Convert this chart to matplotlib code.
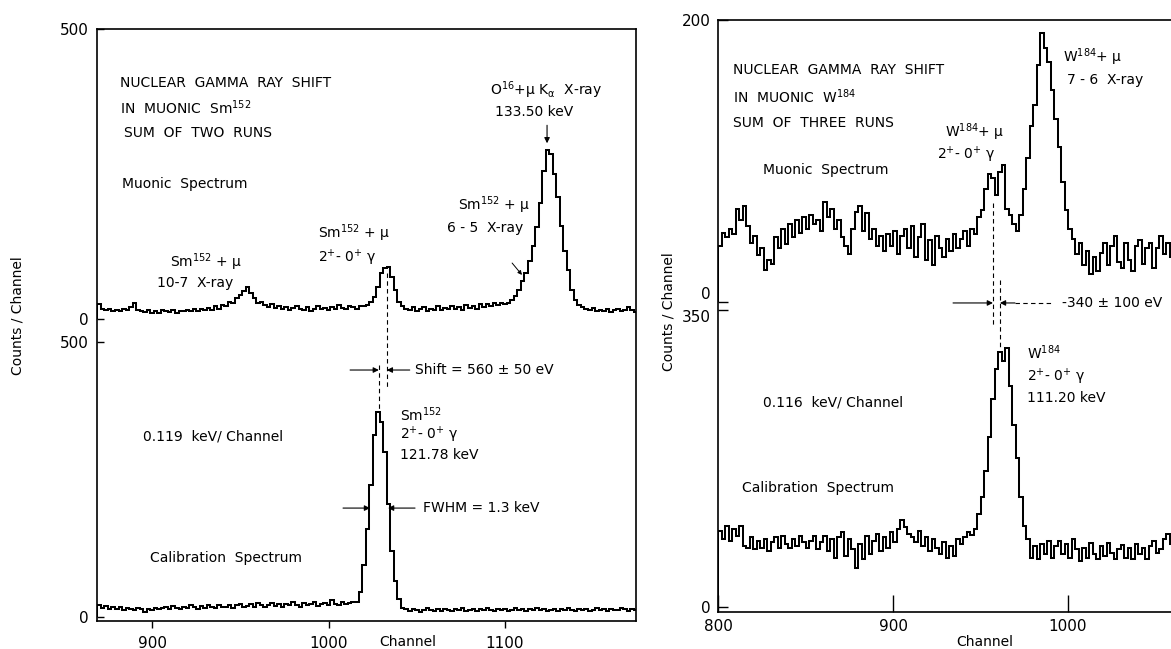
import numpy as np
import matplotlib
matplotlib.use("Agg")
import matplotlib.pyplot as plt

plt.rcParams['font.family'] = ['DejaVu Sans']
plt.rcParams['mathtext.default'] = 'regular'

W, H = 1171, 649

# ---------------- data (counts per bin) ----------------
sm_first_channel = 869
sm_bin_width = 2
sm_muonic_counts = [
    26, 18, 15, 17, 14, 16, 13, 18, 15, 20, 27, 16, 14, 12, 15, 11, 14, 10, 16, 13,
    12, 15, 11, 14, 13, 16, 14, 18, 13, 17, 15, 19, 16, 22, 18, 24,
    22, 30, 28, 36, 42, 48, 55, 45, 36, 28,
    30, 24, 20, 26, 19, 22, 17, 21, 15, 19, 23, 18, 16, 20, 14, 18, 22, 17, 19, 15,
    21, 18, 24, 19, 17, 22, 20, 18, 23,
    22, 24, 30, 38, 55, 80, 88, 90, 72, 50, 30, 22,
    18, 15, 20, 14, 17, 21, 13, 18, 16, 22, 15, 19, 17, 23, 18, 20, 16, 24, 19, 22,
    18, 25, 21, 26, 22, 28, 24, 27,
    26, 28, 32, 40, 50, 65, 80, 100, 125, 158, 200, 255, 292, 285, 250, 210, 160, 118,
    85, 50, 32, 24, 20,
    18, 15, 19, 13, 16, 14, 17, 12, 15, 18, 14, 16, 20, 15, 12,
]
sm_calib_counts = [
    22, 16, 20, 14, 18, 15, 19, 13, 17, 15, 12, 16, 14, 9, 15, 13, 17, 14, 16, 18,
    15, 20, 17, 14, 19, 16, 21, 18, 15, 20, 17, 22, 19, 16, 21, 18,
    19, 22, 17, 21, 24, 18, 20, 23, 19, 25, 21, 18, 22, 26, 20, 23, 19, 24, 21, 27,
    22, 18, 25, 21, 23, 28, 20, 24, 26, 22, 30, 24, 21, 27, 23, 25, 28,
    28, 45, 95, 160, 240, 330, 373, 355, 300, 205, 120, 65, 32, 16,
    14, 11, 15, 12, 9, 13, 16, 12, 10, 14, 11, 15, 13, 10, 14, 12, 16, 11, 13, 15,
    10, 14, 12, 17, 13, 11, 15, 12, 14, 10, 13, 16, 12, 14, 11, 15, 13, 17, 12, 14,
    10, 13, 15, 11, 14, 12, 16, 13, 11, 14, 12, 15, 10, 13, 16, 12, 14, 11, 15, 13,
    12, 16, 14, 11, 15, 13,
]

w_first_channel = 800
w_bin_width = 2
w_muonic_counts = [
    40, 49, 46, 52, 48, 66, 58, 68, 54, 42,
    47, 33, 38, 23, 30, 27, 46, 38, 52, 41,
    55, 46, 58, 49, 60, 52, 62, 55, 58, 50,
    71, 60, 66, 52, 58, 46, 40, 34, 52, 64,
    68, 50, 63, 45, 52, 40, 47, 36, 48, 40,
    50, 34, 47, 52, 38, 54, 32, 46, 55, 30,
    44, 26, 47, 38, 32, 45, 36, 48, 38, 45,
    50, 40, 52, 48, 60, 65, 80, 91, 88, 76,
    92, 97, 66, 62, 55, 50, 62, 80, 102, 125,
    140, 168, 191, 180, 170, 150, 130, 110, 85, 65,
    52, 45, 34, 42, 26, 36, 20, 32, 22, 35,
    42, 26, 40, 47, 28, 24, 42, 30, 22, 40,
    44, 27, 38, 42, 24, 38, 47, 34, 42, 32,
]
w_calib_counts = [
    90, 80, 96, 78, 92, 84, 95, 72, 70, 82,
    68, 78, 70, 80, 66, 76, 82, 70, 84, 74,
    70, 80, 72, 84, 76, 70, 78, 84, 68, 76,
    84, 66, 80, 58, 82, 88, 60, 80, 68, 46,
    74, 56, 84, 62, 78, 86, 66, 82, 70, 88,
    76, 92, 102, 94, 86, 82, 76, 90, 72, 82,
    66, 80, 70, 62, 76, 58, 72, 60, 80, 74,
    82, 88, 85, 92, 110, 130, 160, 200, 245, 280,
    300, 290, 305, 260, 215, 175, 130, 95, 80, 58,
    72, 56, 74, 62, 78, 58, 72, 78, 62, 74,
    58, 80, 68, 54, 70, 58, 75, 62, 56, 72,
    60, 75, 64, 56, 68, 73, 58, 70, 56, 74,
    62, 70, 56, 72, 78, 64, 68, 80, 86, 74,
]

left_xticks = [900, 1000, 1100]
right_xticks = [800, 900, 1000]
sm_yticks = [0, 500]
w_upper_yticks = [0, 200]
w_lower_yticks = [0, 350]

# ---------------- figure ----------------
fig = plt.figure(figsize=(W / 100, H / 100), dpi=100)
FS = 10


def rect(x0, y0, x1, y1):
    """pixel box (top-left origin) -> figure fraction rect"""
    return [x0 / W, 1 - y1 / H, (x1 - x0) / W, (y1 - y0) / H]


def ftext(x, y, s, size=FS, ha='left', **kw):
    fig.text(x / W, 1 - y / H, s, fontsize=size, ha=ha, va='center', **kw)


def edges(first, width, n):
    return first + width * np.arange(n + 1)


LW = 1.45
arrow = dict(arrowstyle='-|>', lw=0.8, color='black', mutation_scale=8,
             shrinkA=0, shrinkB=0)
dash = dict(color='black', lw=0.8, dashes=(4, 3))

# ===== left panel (Sm152) =====
Lbox = rect(97, 29, 636, 621)
axL = fig.add_axes(Lbox)
axL.set_xlim(868.8, 1174.2)
axL.set_ylim(0, 1)
axL.set_yticks([])
axL.set_xticks(left_xticks)
axL.tick_params(axis='x', direction='out', length=5, width=1, labelsize=11, pad=6)
for s in axL.spines.values():
    s.set_linewidth(1.2)

axLt = fig.add_axes(Lbox, sharex=axL)
axLt.patch.set_visible(False)
axLt.set_ylim(-520.7, 500)
axLb = fig.add_axes(Lbox, sharex=axL)
axLb.patch.set_visible(False)
axLb.set_ylim(-7.3, 1069)
for a, tk in ((axLt, sm_yticks), (axLb, sm_yticks)):
    for s in a.spines.values():
        s.set_visible(False)
    a.set_yticks(tk)
    a.tick_params(axis='y', direction='in', length=5, width=1, labelsize=11, pad=6)
    a.tick_params(axis='x', bottom=False, labelbottom=False)

axLt.stairs(sm_muonic_counts, edges(sm_first_channel, sm_bin_width, len(sm_muonic_counts)),
            color='black', lw=LW)
axLb.stairs(sm_calib_counts, edges(sm_first_channel, sm_bin_width, len(sm_calib_counts)),
            color='black', lw=LW)

# dashed centroid lines and arrows
axLt.plot([1033, 1033], [79, -117], **dash)
axLb.plot([1028.5, 1028.5], [458, 376], **dash)
axLb.annotate('', xy=(1028.5, 449), xytext=(1012.2, 449), arrowprops=arrow)
axLb.annotate('', xy=(1033, 449), xytext=(1046, 449), arrowprops=arrow)
axLb.annotate('', xy=(1023.5, 198), xytext=(1008.2, 198), arrowprops=arrow)
axLb.annotate('', xy=(1033.7, 198), xytext=(1049, 198), arrowprops=arrow)
axLt.annotate('', xy=(1123.8, 303), xytext=(1123.8, 334), arrowprops=arrow)
axLt.annotate('', xy=(1109.6, 76), xytext=(1104, 96.5),
              arrowprops=dict(arrowstyle='-|>', lw=0.7, color='black',
                              mutation_scale=6, shrinkA=0, shrinkB=0))

ftext(120, 83, 'NUCLEAR  GAMMA  RAY  SHIFT')
ftext(120, 108, 'IN  MUONIC  Sm$^{152}$')
ftext(124, 133, 'SUM  OF  TWO  RUNS')
ftext(122, 184, 'Muonic  Spectrum')
ftext(170, 262, 'Sm$^{152}$ + μ')
ftext(157, 283, '10-7  X-ray')
ftext(318, 233, 'Sm$^{152}$ + μ')
ftext(318, 258, '2$^{+}$- 0$^{+}$ γ')
ftext(458, 205, 'Sm$^{152}$ + μ')
ftext(447, 228, '6 - 5  X-ray')
ftext(490, 90, 'O$^{16}$+μ K$_{α}$  X-ray')
ftext(495, 112, '133.50 keV')
ftext(415, 370, 'Shift = 560 ± 50 eV')
ftext(400, 415, 'Sm$^{152}$')
ftext(400, 435, '2$^{+}$- 0$^{+}$ γ')
ftext(400, 455, '121.78 keV')
ftext(423, 508, 'FWHM = 1.3 keV')
ftext(143, 437, '0.119  keV/ Channel')
ftext(150, 558, 'Calibration  Spectrum')
ftext(408, 642, 'Channel', ha='center')
fig.text(18 / W, 1 - 316 / H, 'Counts / Channel', rotation=90, fontsize=FS,
         ha='center', va='center')

# ===== right panel (W184) =====
Rbox = rect(718, 20, 1190, 612)
axR = fig.add_axes(Rbox)
axR.set_xlim(800, 1069.7)
axR.set_ylim(0, 1)
axR.set_yticks([])
axR.set_xticks(right_xticks)
axR.tick_params(axis='x', direction='in', length=12, width=1, labelsize=11, pad=5)
for s in axR.spines.values():
    s.set_linewidth(1.2)

axRt = fig.add_axes(Rbox, sharex=axR)
axRt.patch.set_visible(False)
axRt.set_ylim(-219.9, 200)
axRb = fig.add_axes(Rbox, sharex=axR)
axRb.patch.set_visible(False)
axRb.set_ylim(-5.9, 691.7)
for a, tk in ((axRt, w_upper_yticks), (axRb, w_lower_yticks)):
    for s in a.spines.values():
        s.set_visible(False)
    a.set_yticks(tk)
    a.tick_params(axis='y', direction='in', length=7, width=1, labelsize=11, pad=5)
    a.tick_params(axis='x', bottom=False, labelbottom=False)
# keep the touching "0" / "350" labels apart, as in the original
axRt.get_yticklabels()[0].set_verticalalignment('bottom')
axRb.get_yticklabels()[1].set_verticalalignment('top')

axRt.stairs(w_muonic_counts, edges(w_first_channel, w_bin_width, len(w_muonic_counts)),
            color='black', lw=LW)
axRb.stairs(w_calib_counts, edges(w_first_channel, w_bin_width, len(w_calib_counts)),
            color='black', lw=LW)

axRt.plot([957.1, 957.1], [70, -17.7], **dash)
axRb.plot([961.1, 961.1], [385, 306], **dash)
axRt.annotate('', xy=(957.1, -0.7), xytext=(934.3, -0.7), arrowprops=arrow)
axRt.annotate('', xy=(961.1, -0.7), xytext=(969.7, -0.7), arrowprops=arrow)
axRt.plot([969.7, 991.4], [-0.7, -0.7], **dash)

ftext(733, 70, 'NUCLEAR  GAMMA  RAY  SHIFT')
ftext(733, 97, 'IN  MUONIC  W$^{184}$')
ftext(733, 123, 'SUM  OF  THREE  RUNS')
ftext(763, 170, 'Muonic  Spectrum')
ftext(945, 132, 'W$^{184}$+ μ')
ftext(937, 155, '2$^{+}$- 0$^{+}$ γ')
ftext(1063, 57, 'W$^{184}$+ μ')
ftext(1067, 80, '7 - 6  X-ray')
ftext(1062, 303, '-340 ± 100 eV')
ftext(1027, 353, 'W$^{184}$')
ftext(1027, 377, '2$^{+}$- 0$^{+}$ γ')
ftext(1027, 398, '111.20 keV')
ftext(763, 402, '0.116  keV/ Channel')
ftext(742, 488, 'Calibration  Spectrum')
ftext(985, 642, 'Channel', ha='center')
fig.text(668 / W, 1 - 312 / H, 'Counts / Channel', rotation=90, fontsize=FS,
         ha='center', va='center')

fig.savefig('out.png', dpi=100)
